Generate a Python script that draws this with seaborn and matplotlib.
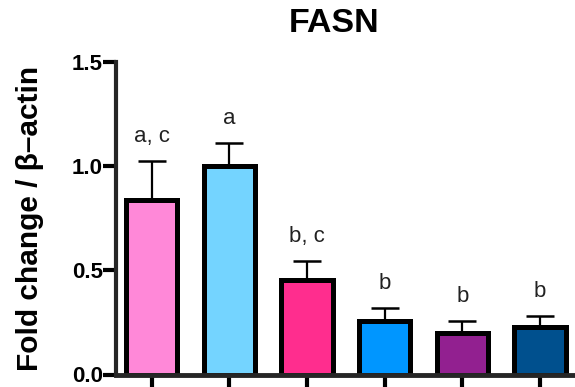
import matplotlib
matplotlib.use("Agg")
import matplotlib.pyplot as plt
import seaborn as sns
import pandas as pd
import numpy as np

groups = ["G1", "G2", "G3", "G4", "G5", "G6"]
means = [0.84, 1.00, 0.455, 0.255, 0.198, 0.227]
errs = [0.185, 0.11, 0.09, 0.063, 0.058, 0.054]
letters = ["a, c", "a", "b, c", "b", "b", "b"]
colors = ["#FF88D8", "#74D4FF", "#FF2D8E", "#0096FF", "#922090", "#00508E"]
yticks = [0.0, 0.5, 1.0, 1.5]
ytick_labels = ["0.0", "0.5", "1.0", "1.5"]

sns.set_style("ticks")
plt.rcParams["font.family"] = ["Liberation Sans", "DejaVu Sans"]
plt.rcParams["text.color"] = "black"
plt.rcParams["axes.labelcolor"] = "black"
plt.rcParams["xtick.color"] = "black"
plt.rcParams["ytick.color"] = "black"

df = pd.DataFrame({"group": groups, "mean": means})

fig = plt.figure(figsize=(5.75, 3.87), dpi=100)
ax = fig.add_axes([116/575, 12.5/387, 1 - 116/575, (374.5 - 62) / 387])

sns.barplot(data=df, x="group", y="mean", hue="group", palette=colors,
            saturation=1, legend=False, width=0.66, edgecolor="black", linewidth=3.6,
            ax=ax, zorder=2)

for i, (m, e) in enumerate(zip(means, errs)):
    ax.errorbar(i, m, yerr=[[0], [e]], fmt="none", ecolor="black",
                elinewidth=1.6, capsize=10, capthick=1.8, zorder=1)
    ax.annotate(letters[i], (i, m + e), xytext=(0, 10), textcoords="offset points",
                ha="center", va="bottom", fontsize=16, color="#222222")

ax.set_ylim(0, 1.5)
ax.set_xlim(-0.46, 5.45)
ax.set_yticks(yticks)
ax.set_yticklabels(ytick_labels, fontsize=16, fontweight="bold")
ax.set_xticklabels([])
ax.set_xlabel("")
ax.set_ylabel("Fold change / \u03b2\u2013actin", fontsize=21.5, fontweight="bold", labelpad=20)
for s in ["top", "right"]:
    ax.spines[s].set_visible(False)
ax.spines["left"].set_linewidth(3)
ax.spines["bottom"].set_linewidth(3.5)
ax.tick_params(axis="y", length=9.5, width=3, pad=0)
ax.tick_params(axis="x", length=14, width=3)

fig.text(334/575, 1 - 24/387, "FASN", ha="center", va="center",
         fontsize=24.5, fontweight="bold")

fig.savefig("out.png", dpi=100)
